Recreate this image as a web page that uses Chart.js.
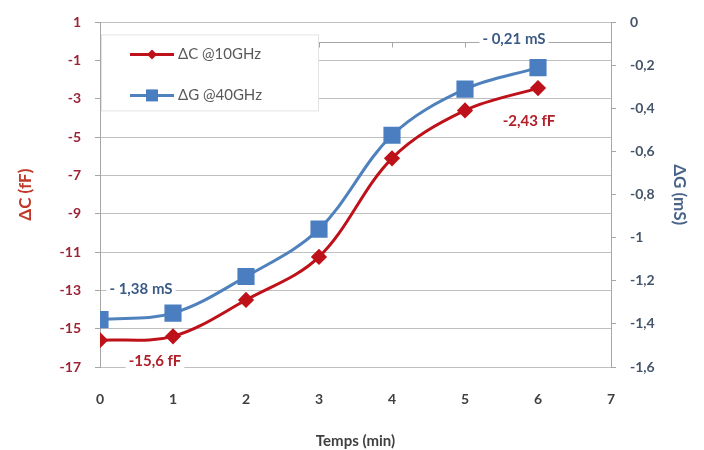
<!DOCTYPE html>
<html>
<head>
<meta charset="utf-8">
<script src="https://cdn.jsdelivr.net/npm/chart.js@4.4.1/dist/chart.umd.min.js"></script>
<style>
  html, body { margin: 0; padding: 0; background: #fff; }
  #wrap { width: 704px; height: 450px; }
</style>
</head>
<body>
<div id="wrap"><canvas id="chart" width="704" height="450"></canvas></div>
<script>
const times = [0, 1, 2, 3, 4, 5, 6];
const deltaC = [-15.6, -15.4, -13.5, -11.25, -6.1, -3.6, -2.43];
const deltaG = [-1.38, -1.35, -1.18, -0.96, -0.524, -0.31, -0.21];
const seriesNames = ["ΔC @10GHz", "ΔG @40GHz"];
const cLabels = ["-15,6 fF", "", "", "", "", "", "-2,43 fF"];
const gLabels = ["- 1,38 mS", "", "", "", "", "", "- 0,21 mS"];

const FONT = "Lato, 'Open Sans', sans-serif";
const RED = "#BE1119";
const BLUE = "#4F81BD";

function fmt(v) {
    const r = Math.round(v * 10) / 10;
    return String(r).replace(".", ",");
}

// axis line drawn at y = 0 (Excel style), with small ticks
const zeroAxis = {
    id: "zeroAxis",
    beforeDatasetsDraw(chart) {
        const { ctx, chartArea, scales } = chart;
        const y = Math.round(scales.y.getPixelForValue(0)) + 0.5;
        ctx.save();
        ctx.strokeStyle = "#A6A6A6";
        ctx.lineWidth = 1;
        ctx.beginPath();
        ctx.moveTo(chartArea.left, y);
        ctx.lineTo(chartArea.right, y);
        for (let t = 1; t <= 7; t++) {
            const x = Math.round(scales.x.getPixelForValue(t)) + 0.5;
            ctx.moveTo(x, y);
            ctx.lineTo(x, y + 5);
        }
        ctx.stroke();
        ctx.restore();
    },
};

// data labels with white background
const pointLabels = {
    id: "pointLabels",
    afterDatasetsDraw(chart) {
        const { ctx } = chart;
        const sets = [
            { texts: cLabels, color: "#B0202A", offs: { 0: [55, 21], 6: [-9, 33] } },
            { texts: gLabels, color: "#3B5A85", offs: { 0: [41, -30], 6: [-24, -28] } },
        ];
        ctx.save();
        ctx.font = "bold 15px " + FONT;
        ctx.textAlign = "center";
        ctx.textBaseline = "middle";
        sets.forEach((s, i) => {
            const meta = chart.getDatasetMeta(i);
            s.texts.forEach((txt, j) => {
                if (!txt) return;
                const p = meta.data[j];
                const o = s.offs[j];
                const x = p.x + o[0];
                const y = p.y + o[1];
                const w = ctx.measureText(txt).width;
                ctx.fillStyle = "#fff";
                ctx.fillRect(x - w / 2 - 3, y - 10, w + 6, 20);
                ctx.fillStyle = s.color;
                ctx.fillText(txt, x, y);
            });
        });
        ctx.restore();
    },
};

// legend box inside plot area
const innerLegend = {
    id: "innerLegend",
    afterDatasetsDraw(chart) {
        const { ctx, chartArea } = chart;
        const bx = chartArea.left + 1, by = chartArea.top + 12, bw = 217, bh = 76;
        ctx.save();
        ctx.fillStyle = "#fff";
        ctx.fillRect(bx, by, bw, bh);
        ctx.strokeStyle = "#E3E3E3";
        ctx.lineWidth = 1;
        ctx.strokeRect(bx + 0.5, by + 0.5, bw, bh);
        chart.data.datasets.forEach((ds, i) => {
            const y = by + 20 + i * 41;
            const x0 = bx + 29, x1 = bx + 73;
            ctx.strokeStyle = ds.borderColor;
            ctx.lineWidth = 3;
            ctx.beginPath();
            ctx.moveTo(x0, y);
            ctx.lineTo(x1, y);
            ctx.stroke();
            ctx.fillStyle = ds.pointBackgroundColor;
            const cx = (x0 + x1) / 2;
            ctx.beginPath();
            if (ds.pointStyle === "rectRot") {
                ctx.moveTo(cx, y - 5); ctx.lineTo(cx + 5, y); ctx.lineTo(cx, y + 5); ctx.lineTo(cx - 5, y);
            } else {
                ctx.rect(cx - 6, y - 6, 12, 12);
            }
            ctx.closePath();
            ctx.fill();
            ctx.fillStyle = "#595959";
            ctx.font = "15px " + FONT;
            ctx.textBaseline = "middle";
            ctx.textAlign = "left";
            ctx.fillText(ds.label, x1 + 4, y);
        });
        ctx.restore();
    },
};

new Chart(document.getElementById("chart"), {
    type: "line",
    data: {
        datasets: [
            {
                label: seriesNames[0],
                data: times.map((t, i) => ({ x: t, y: deltaC[i] })),
                yAxisID: "y",
                borderColor: RED,
                backgroundColor: RED,
                pointBackgroundColor: RED,
                pointBorderColor: RED,
                pointStyle: "rectRot",
                pointRadius: 6,
                borderWidth: 3,
                tension: 0.35,
            },
            {
                label: seriesNames[1],
                data: times.map((t, i) => ({ x: t, y: deltaG[i] })),
                yAxisID: "y1",
                borderColor: BLUE,
                backgroundColor: BLUE,
                pointBackgroundColor: "#4A7EC0",
                pointBorderColor: "#4A7EC0",
                pointStyle: "rect",
                pointRadius: 10,
                borderWidth: 3,
                tension: 0.35,
            },
        ],
    },
    options: {
        responsive: false,
        animation: false,
        layout: { padding: { top: 18, left: 0, right: 0, bottom: 0 } },
        plugins: { legend: { display: false }, tooltip: { enabled: false } },
        scales: {
            x: {
                type: "linear",
                min: 0,
                max: 7,
                ticks: { stepSize: 1, color: "#404040", padding: 16, font: { family: FONT, size: 14, weight: "bold" } },
                grid: { display: false },
                border: { display: false },
                title: {
                    display: true,
                    text: "Temps (min)",
                    color: "#404040",
                    font: { family: FONT, size: 15, weight: "bold" },
                    padding: { top: 7, bottom: 0 },
                },
                afterFit: (s) => { s.height = 83; },
            },
            y: {
                position: "left",
                min: -17,
                max: 1,
                ticks: { stepSize: 2, color: "#9B2335", padding: 14, font: { family: FONT, size: 14, weight: "bold" } },
                grid: { color: "#BFBFBF", lineWidth: 1, tickLength: 5, tickColor: "#A6A6A6" },
                border: { color: "#A6A6A6" },
                title: {
                    display: true,
                    text: "ΔC (fF)",
                    color: "#C0392B",
                    font: { family: FONT, size: 17, weight: "bold" },
                    padding: { top: 15, bottom: 0 },
                },
                afterFit: (s) => { s.width = 100; },
            },
            y1: {
                position: "right",
                min: -1.6,
                max: 0,
                ticks: {
                    stepSize: 0.2,
                    color: "#44546A",
                    padding: 14,
                    font: { family: FONT, size: 14, weight: "bold" },
                    callback: (v) => fmt(v),
                },
                grid: { drawOnChartArea: false, tickLength: 5, color: "#A6A6A6" },
                border: { color: "#A6A6A6" },
                title: {
                    display: true,
                    text: "ΔG (mS)",
                    color: "#4A6489",
                    font: { family: FONT, size: 17, weight: "bold" },
                    padding: { top: 14, bottom: 0 },
                },
                afterFit: (s) => { s.width = 93; },
            },
        },
    },
    plugins: [zeroAxis, pointLabels, innerLegend],
});
</script>
</body>
</html>
